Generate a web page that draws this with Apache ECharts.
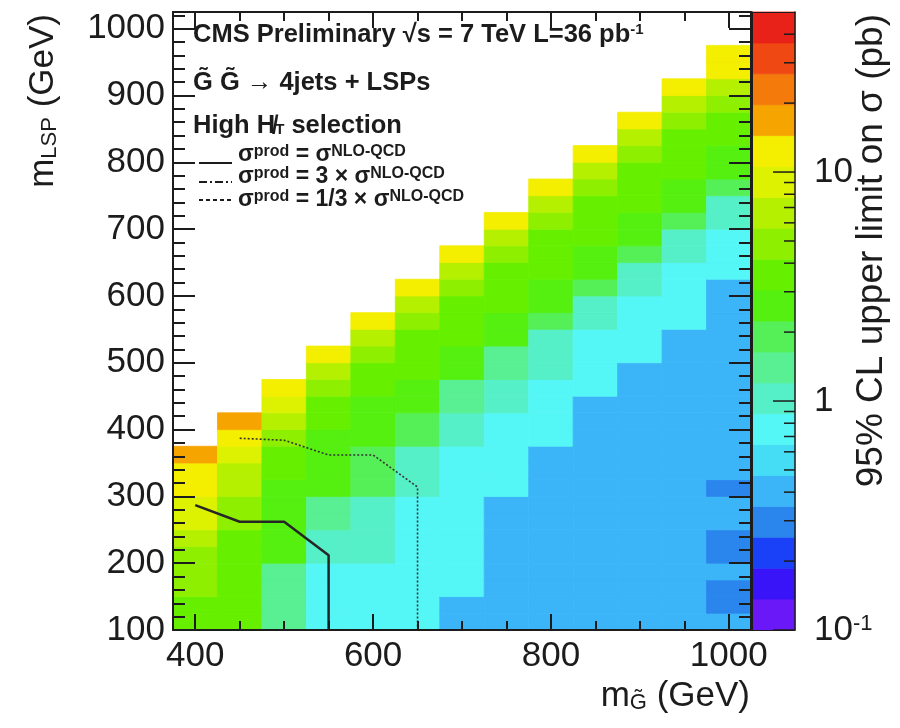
<!DOCTYPE html>
<html><head><meta charset="utf-8">
<script src="https://cdn.jsdelivr.net/npm/echarts@6/dist/echarts.min.js"></script>
<style>html,body{margin:0;padding:0;background:#fff}#c{width:900px;height:728px}</style>
</head><body><div id="c"></div>
<script>
// ---------------- data ----------------
const gluinoMass = [400,450,500,550,600,650,700,750,800,850,900,950,1000]; // bin centres (GeV)
const gluinoBin = 50;      // GeV
const lspLow = 100;        // lower edge of first m_LSP bin (GeV)
const lspBin = 25;         // GeV
// 95% CL upper limit on sigma (pb), per gluino column, m_LSP bins from 100 GeV upward
const limit400  = [3.4,3.8,4.4,4.9,5.3,6.4,8.2,9.6,11.2,12.8,16.5];
const limit450  = [3.2,3.3,3.4,3.5,3.7,3.9,4.5,5.0,6.1,7.0,8.8,11.8,17.2];
const limit500  = [1.3,1.35,1.45,1.55,2.4,2.5,2.6,2.7,2.9,3.2,3.7,4.6,6.2,8.5,11.5];
const limit550  = [0.70,0.72,0.76,0.82,0.95,1.08,1.3,1.5,2.3,2.5,2.7,2.95,3.3,3.8,4.7,6.5,12.2];
const limit600  = [0.68,0.71,0.75,0.80,0.92,0.98,1.05,1.12,1.7,1.85,2.1,2.35,2.6,2.85,3.3,3.9,4.9,6.8,12.4];
const limit650  = [0.66,0.68,0.70,0.72,0.74,0.77,0.80,0.84,0.92,1.0,1.1,1.75,2.0,2.4,2.8,3.2,3.6,4.0,4.9,6.7,12.0];
const limit700  = [0.42,0.45,0.66,0.68,0.70,0.72,0.74,0.76,0.79,0.82,0.86,0.95,1.1,1.3,1.5,2.4,2.8,3.2,3.6,4.0,5.0,6.9,12.6];
const limit750  = [0.38,0.39,0.40,0.41,0.42,0.43,0.44,0.46,0.67,0.70,0.74,0.78,0.84,0.94,1.08,1.3,1.5,2.4,2.8,3.2,3.6,4.0,5.0,6.8,12.8];
const limit800  = [0.36,0.37,0.38,0.39,0.40,0.41,0.42,0.43,0.44,0.45,0.46,0.70,0.74,0.78,0.84,0.92,1.0,1.1,1.8,2.4,2.8,3.2,3.6,4.0,5.0,6.9,12.9];
const limit850  = [0.35,0.36,0.37,0.38,0.39,0.40,0.40,0.41,0.42,0.43,0.44,0.45,0.46,0.46,0.70,0.74,0.78,0.84,0.95,1.1,1.8,2.4,2.8,3.2,3.6,4.0,5.1,7.0,13.0];
const limit900  = [0.35,0.35,0.36,0.36,0.37,0.37,0.38,0.38,0.39,0.40,0.41,0.42,0.43,0.44,0.45,0.46,0.70,0.74,0.78,0.84,0.95,1.1,1.8,2.4,2.8,3.2,3.6,4.0,5.1,7.0,13.2];
const limit950  = [0.35,0.35,0.35,0.36,0.36,0.37,0.37,0.38,0.38,0.39,0.39,0.40,0.41,0.42,0.43,0.44,0.45,0.46,0.70,0.74,0.78,0.84,0.95,1.1,1.8,2.4,2.8,3.2,3.6,4.0,5.1,7.0,13.3];
const limit1000 = [0.40,0.31,0.32,0.40,0.31,0.32,0.39,0.40,0.32,0.38,0.38,0.39,0.39,0.40,0.40,0.41,0.42,0.43,0.44,0.45,0.46,0.70,0.76,0.84,0.95,1.1,1.8,2.4,2.8,3.2,3.6,5.1,7.0,12.0,13.5];
const limits = [limit400,limit450,limit500,limit550,limit600,limit650,limit700,limit750,limit800,limit850,limit900,limit950,limit1000];

// exclusion contours (m_gluino, m_LSP)
const nominalX = [400,450,500,550,550];
const nominalY = [287,262,262,212,100];
const scaledX  = [450,500,550,600,650,650];
const scaledY  = [387,384,362,362,314,100];

// ticks
const xMajorTicks = [400,600,800,1000];
const xMinorTicks = [400,450,500,550,600,650,700,750,800,850,900,950,1000];
const yMajorTicks = [100,200,300,400,500,600,700,800,900,1000];
const yMinorTicks = [100,120,140,160,180,200,220,240,260,280,300,320,340,360,380,400,420,440,460,480,500,520,540,560,580,600,620,640,660,680,700,720,740,760,780,800,820,840,860,880,900,920,940,960,980,1000,1020];
const zMajorTicks = [0.1,1,10];
const zMinorTicks = [0.2,0.3,0.4,0.5,0.6,0.7,0.8,0.9,2,3,4,5,6,7,8,9,20,30,40];
const zMin = 0.1, zMax = 50, nLevels = 20;

// palette (violet -> red), one colour per contour level
const palette = ['#6a18f8','#3a14f8','#1a40f8','#2a86ec','#3bb5f7','#45dcf6','#55f6f6','#55f0c8','#58f092','#55f058',
                 '#55f010','#66f000','#8ef000','#b4f000','#dcf200','#f4ee00','#f6a400','#f47a0c','#f04812','#e82218'];

// ---------------- build ----------------
const F = '"Liberation Sans", Arial, Helvetica, sans-serif';
const INK = '#1c1c1c';
const heat = [];
gluinoMass.forEach((g, i) => limits[i].forEach((v, k) => heat.push([g, lspLow + k * lspBin, v])));
const edges = [];
for (let j = 0; j <= nLevels; j++) edges.push(zMin * Math.pow(zMax / zMin, j / nLevels));
const pieces = palette.map((c, j) => j === nLevels - 1 ? {gte: edges[j], lte: edges[j + 1], color: c} : {gte: edges[j], lt: edges[j + 1], color: c});
const bandData = palette.map((c, j) => [0.5, edges[j], edges[j + 1], j]);
const tickData = zMajorTicks.map(v => [0.5, v, 1]).concat(zMinorTicks.map(v => [0.5, v, 0]));
const nominalLine = nominalX.map((x, i) => [x, nominalY[i]]);
const scaledLine = scaledX.map((x, i) => [x, scaledY[i]]);

const lineSt = {color: INK, width: 2};
const xMin = 375, xMax = 1025, yMin = 100, yMax = 1025;
const plain = v => String(v);
function xAx(pos, ticks, len, labels) {
  return {gridIndex: 0, type: 'value', min: xMin, max: xMax, position: pos, z: 5,
    axisLine: {show: len > 12, onZero: false, lineStyle: lineSt},
    axisTick: {show: true, inside: true, length: len, customValues: ticks, lineStyle: lineSt},
    axisLabel: labels ? {customValues: ticks, formatter: plain, fontSize: 35, fontFamily: F, color: INK, margin: 9} : {show: false},
    splitLine: {show: false}};
}
function yAx(pos, ticks, len, labels) {
  return {gridIndex: 0, type: 'value', min: yMin, max: yMax, position: pos, z: 5,
    axisLine: {show: len > 15, onZero: false, lineStyle: lineSt},
    axisTick: {show: true, inside: true, length: len, customValues: ticks, lineStyle: lineSt},
    axisLabel: labels ? {customValues: ticks, formatter: plain, fontSize: 35, fontFamily: F, color: INK, margin: 8} : {show: false},
    splitLine: {show: false}};
}
function isDecade(v, p) { return Math.abs(Math.log10(v) - p) < 1e-6; }

const eqRich = {
  m: {fontSize: 23, fontWeight: 'bold', fontFamily: F, fill: INK, lineHeight: 23, padding: [9,0,0,0], verticalAlign: 'bottom'},
  s: {fontSize: 16, fontWeight: 'bold', fontFamily: F, fill: INK, lineHeight: 16, verticalAlign: 'top'}
};

const chart = echarts.init(document.getElementById('c'), null, {renderer: 'canvas'});
chart.setOption({
  animation: false,
  backgroundColor: '#fff',
  textStyle: {fontFamily: F},
  grid: [
    {left: 173, top: 12, width: 578, height: 618},
    {left: 752, top: 12, width: 43, height: 618}
  ],
  xAxis: [
    xAx('bottom', xMajorTicks, 16, true),
    xAx('bottom', xMinorTicks, 9, false),
    xAx('top', xMajorTicks, 16, false),
    xAx('top', xMinorTicks, 9, false),
    {gridIndex: 1, type: 'value', min: 0, max: 1, position: 'bottom', z: 5, axisLine: {show: true, onZero: false, lineStyle: {color: INK, width: 1}}, axisTick: {show: false}, axisLabel: {show: false}, splitLine: {show: false}},
    {gridIndex: 1, type: 'value', min: 0, max: 1, position: 'top', z: 5, axisLine: {show: true, onZero: false, lineStyle: {color: INK, width: 1}}, axisTick: {show: false}, axisLabel: {show: false}, splitLine: {show: false}}
  ],
  yAxis: [
    yAx('left', yMajorTicks, 22, true),
    yAx('left', yMinorTicks, 12, false),
    yAx('right', yMajorTicks, 22, false),
    yAx('right', yMinorTicks, 12, false),
    {gridIndex: 1, type: 'log', logBase: 10, min: zMin, max: zMax, position: 'right', z: 5,
      axisLine: {show: true, onZero: false, lineStyle: {color: INK, width: 1.5}}, axisTick: {show: false}, splitLine: {show: false},
      axisLabel: {margin: 19, color: INK,
        formatter: v => isDecade(v, -1) ? '{b|10}{p|-1}' : isDecade(v, 0) ? '{c|1}' : isDecade(v, 1) ? '{c|10}' : '',
        rich: {
          b: {fontSize: 35, fontFamily: F, color: INK, lineHeight: 35, padding: [10,0,0,0], verticalAlign: 'bottom'},
          p: {fontSize: 22, fontFamily: F, color: INK, lineHeight: 22, verticalAlign: 'top'},
          c: {fontSize: 35, fontFamily: F, color: INK, lineHeight: 35}
        }}},
    {gridIndex: 1, type: 'value', min: 0, max: 1, position: 'left', z: 5, axisLine: {show: true, onZero: false, lineStyle: {color: INK, width: 1}}, axisTick: {show: false}, axisLabel: {show: false}, splitLine: {show: false}}
  ],
  visualMap: {type: 'piecewise', show: false, seriesIndex: 0, dimension: 2, pieces: pieces},
  series: [
    {type: 'custom', name: 'limit', xAxisIndex: 0, yAxisIndex: 0, z: 2, silent: true, data: heat,
      renderItem: (params, api) => {
        const g = api.value(0), y0 = api.value(1);
        const a = api.coord([g - gluinoBin / 2, y0]);
        const b = api.coord([g + gluinoBin / 2, y0 + lspBin]);
        const c = api.visual('color');
        return {type: 'rect', shape: {x: a[0], y: b[1], width: b[0] - a[0], height: a[1] - b[1]},
          style: {fill: c, stroke: c, lineWidth: 0.8}};
      }},
    {type: 'line', name: 'nominal', xAxisIndex: 0, yAxisIndex: 0, z: 3, data: nominalLine, symbol: 'none', silent: true,
      lineStyle: {color: '#262626', width: 2.5}},
    {type: 'line', name: 'scaled', xAxisIndex: 0, yAxisIndex: 0, z: 3, data: scaledLine, symbol: 'none', silent: true,
      lineStyle: {color: '#333', width: 1.6, type: [2, 2]}},
    {type: 'custom', name: 'colorbar', xAxisIndex: 4, yAxisIndex: 4, z: 2, silent: true, data: bandData,
      renderItem: (params, api) => {
        const cs = params.coordSys;
        const lo = api.coord([0.5, api.value(1)]), hi = api.coord([0.5, api.value(2)]);
        const c = palette[api.value(3)];
        return {type: 'rect', shape: {x: cs.x, y: hi[1], width: cs.width, height: lo[1] - hi[1]},
          style: {fill: c, stroke: c, lineWidth: 0.8}};
      }},
    {type: 'custom', name: 'cbticks', xAxisIndex: 4, yAxisIndex: 4, z: 4, silent: true, data: tickData,
      renderItem: (params, api) => {
        const cs = params.coordSys;
        const p = api.coord([0.5, api.value(1)]);
        const xr = cs.x + cs.width;
        const len = api.value(2) ? 22 : 11;
        return {type: 'line', shape: {x1: xr - len, y1: p[1], x2: xr, y2: p[1]}, style: {stroke: INK, lineWidth: 1.5}};
      }}
  ],
  graphic: [
    {type: 'text', x: 193, y: 22.5, z: 10, style: {text: '{m|CMS Preliminary √s = 7 TeV L=36 pb}{s|-1}', verticalAlign: 'top',
      rich: {m: {fontSize: 25.5, fontWeight: 'bold', fontFamily: F, fill: INK, lineHeight: 25, padding: [8,0,0,0], verticalAlign: 'bottom'},
             s: {fontSize: 15, fontWeight: 'bold', fontFamily: F, fill: INK, lineHeight: 15, verticalAlign: 'top'}}}},
    {type: 'text', x: 193, y: 83, z: 10, style: {text: 'G\u0303 G\u0303 \u2192 4jets + LSPs', fontSize: 25.5, fontWeight: 'bold', fontFamily: F, fill: INK, verticalAlign: 'middle'}},
    {type: 'text', x: 193, y: 112.5, z: 10, style: {text: '{m|High H\u0338}{s|T}{m| selection}', verticalAlign: 'top',
      rich: {m: {fontSize: 25.5, fontWeight: 'bold', fontFamily: F, fill: INK, lineHeight: 25, padding: [0,0,5,0], verticalAlign: 'top'},
             s: {fontSize: 15, fontWeight: 'bold', fontFamily: F, fill: INK, lineHeight: 15, verticalAlign: 'bottom'}}}},
    {type: 'line', z: 10, shape: {x1: 199, y1: 163, x2: 232, y2: 163}, style: {stroke: INK, lineWidth: 2}},
    {type: 'line', z: 10, shape: {x1: 199, y1: 182, x2: 232, y2: 182}, style: {stroke: INK, lineWidth: 2, lineDash: [8,3,2,3]}},
    {type: 'line', z: 10, shape: {x1: 199, y1: 200, x2: 232, y2: 200}, style: {stroke: INK, lineWidth: 2, lineDash: [4,3]}},
    {type: 'text', x: 238, y: 143.5, z: 10, style: {text: '{m|\u03c3}{s|prod}{m| = \u03c3}{s|NLO-QCD}', verticalAlign: 'top', rich: eqRich}},
    {type: 'text', x: 238, y: 165.5, z: 10, style: {text: '{m|\u03c3}{s|prod}{m| = 3 \u00d7 \u03c3}{s|NLO-QCD}', verticalAlign: 'top', rich: eqRich}},
    {type: 'text', x: 238, y: 188.5, z: 10, style: {text: '{m|\u03c3}{s|prod}{m| = 1/3 \u00d7 \u03c3}{s|NLO-QCD}', verticalAlign: 'top', rich: eqRich}},
    {type: 'text', x: 750, y: 679, z: 10, style: {text: '{m|m}{s|G\u0303}{m| (GeV)}', align: 'right', verticalAlign: 'top',
      rich: {m: {fontSize: 35, fontFamily: F, fill: INK, lineHeight: 35, padding: [0,0,14,0], verticalAlign: 'top'},
             s: {fontSize: 22, fontFamily: F, fill: INK, lineHeight: 22, verticalAlign: 'bottom'}}}},
    {type: 'text', x: 43, y: 14, rotation: Math.PI / 2, z: 10, style: {text: '{m|m}{s|LSP}{m| (GeV)}', align: 'right', verticalAlign: 'middle',
      rich: {m: {fontSize: 35, fontFamily: F, fill: INK, lineHeight: 35, padding: [0,0,4,0], verticalAlign: 'top'},
             s: {fontSize: 22, fontFamily: F, fill: INK, lineHeight: 22, verticalAlign: 'bottom'}}}},
    {type: 'text', x: 872, y: 14, rotation: Math.PI / 2, z: 10, style: {text: '95% CL upper limit on \u03c3 (pb)', align: 'right', verticalAlign: 'middle', fontSize: 37, fontFamily: F, fill: INK}}
  ]
});
</script></body></html>
